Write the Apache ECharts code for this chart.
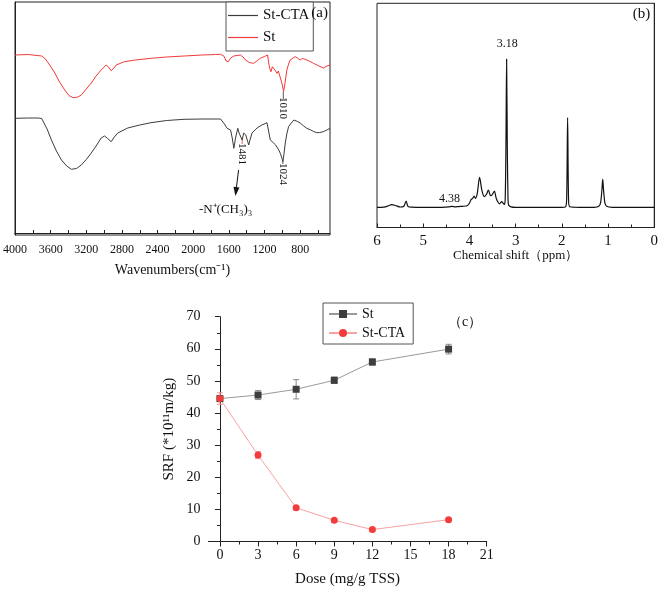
<!DOCTYPE html>
<html><head><meta charset="utf-8">
<script src="https://cdn.jsdelivr.net/npm/echarts@6/dist/echarts.min.js"></script>
<style>html,body{margin:0;padding:0;background:#fff}#c{width:661px;height:589px}</style>
</head><body><div id="c"></div>
<script>
// ---------- Panel (a): FTIR (wavenumber, relative transmittance a.u.)
const ftirSt = [[4000,178],[3850,178.5],[3702,177],[3665,174.7],[3610,168],[3553,160],[3500,151],[3442,143],[3395,137.5],[3349,135.3],[3300,135.8],[3256,138],[3200,144],[3144,150],[3090,157],[3033,163],[2977,168],[2950,166],[2921,162.3],[2890,165],[2865,168],[2772,171.3],[2650,173],[2474,174.7],[2300,176],[2102,177],[1900,178],[1750,178.5],[1693,178.7],[1656,177],[1630,172],[1607,171.3],[1580,175],[1544,177],[1470,178],[1440,176],[1414,173],[1370,170.5],[1321,169.7],[1280,172.5],[1247,174.7],[1200,176.5],[1165,178],[1153,170],[1140,164],[1127,161.3],[1112,166.3],[1098,166],[1075,162],[1060,159.7],[1045,162],[1023,161.3],[1005,150],[986,141.3],[970,150],[949,163],[930,169],[912,173],[880,175],[856,176.3],[830,175],[800,173],[775,174.5],[744,173.7],[700,172],[651,169.7],[600,167.5],[540,165],[500,167],[465,168]];
const ftirStCTA = [[4000,114.7],[3850,115],[3740,115],[3700,114.5],[3684,113],[3640,104],[3591,93],[3535,82],[3479,73],[3420,67],[3367,63.7],[3310,64.5],[3256,68],[3200,73.5],[3144,80],[3090,87],[3033,95],[2995,97],[2960,94.5],[2921,91.3],[2885,96],[2847,100],[2735,105],[2600,108],[2474,110.3],[2300,112.5],[2102,113.7],[1900,114],[1693,114],[1650,109],[1619,104.7],[1581,103],[1562,95],[1544,84.7],[1525,95],[1500,104.7],[1485,100],[1470,101],[1451,93],[1433,100],[1410,98],[1395,98],[1377,88],[1360,94],[1340,100],[1284,105],[1230,108],[1172,110.3],[1150,100],[1135,93],[1115,91],[1098,90],[1075,88],[1060,86.3],[1040,83],[1023,79.7],[1005,75],[994,71.3],[980,80],[967,90],[950,99],[930,106.3],[900,110],[870,113],[856,113],[830,111.5],[800,110],[760,107],[726,104.7],[680,103],[650,101.5],[614,100.3],[580,100.5],[540,101.3],[500,103],[465,104.7]];
const ftirLabelTicks = [4000,3600,3200,2800,2400,2000,1600,1200,800];
const ftirTicks = [4000,3800,3600,3400,3200,3000,2800,2600,2400,2200,2000,1800,1600,1400,1200,1000,800,600];

// ---------- Panel (b): 1H NMR (ppm, intensity a.u.)
const nmr = [[6.00,21],[5.85,21.2],[5.75,22.5],[5.68,23.7],[5.60,22.8],[5.50,21.3],[5.42,22],[5.37,27.3],[5.33,22],[5.25,21.2],[5.00,21],[4.70,21],[4.45,21.5],[4.38,22],[4.30,21.5],[4.15,22],[4.05,22.5],[4.00,25],[3.97,28.3],[3.93,30],[3.90,32.3],[3.87,30],[3.83,35],[3.78,51],[3.73,38],[3.68,31.7],[3.63,34],[3.59,38.3],[3.55,33],[3.53,32.7],[3.49,35],[3.46,37.3],[3.42,30],[3.38,26],[3.35,24.5],[3.30,26.7],[3.27,25],[3.24,24],[3.225,30],[3.21,80],[3.195,169.3],[3.18,80],[3.165,30],[3.15,23],[3.10,21.5],[3.00,21],[2.50,21],[2.00,21],[1.92,21.5],[1.895,30],[1.875,110.7],[1.855,30],[1.83,21.5],[1.60,21],[1.30,21],[1.20,22],[1.16,26],[1.13,40],[1.115,49],[1.10,40],[1.07,26],[1.03,22],[0.90,21],[0.50,21],[0.00,21]];

// ---------- Panel (c): SRF vs dose
const doses = [0,3,6,9,12,18];
const srfSt = [44.5,45.6,47.4,50.2,55.9,59.9];
const srfStErr = [0.8,1.4,3.0,1.0,1.0,1.5];
const srfCTA = [44.5,26.9,10.5,6.6,3.7,6.8];
const srfCTAErr = [1.8,1.1,0.5,0.5,0.5,0.5];
const doseTicks = [0,3,6,9,12,15,18,21];
const doseMinorTicks = [1.5,4.5,7.5,10.5,13.5,16.5,19.5];

const FONT = 'Liberation Serif, Times New Roman, serif';
const AX = '#222';
const plain = v => String(v);

function errSeries(name, xi, yi, ys, es, color) {
  return {
    type: 'custom', name: name, xAxisIndex: xi, yAxisIndex: yi, silent: true, z: 1,
    data: doses.map((x, i) => [x, ys[i] - es[i], ys[i] + es[i]]),
    encode: { x: 0, y: [1, 2] },
    renderItem: function (params, api) {
      const x = api.value(0);
      const lo = api.coord([x, api.value(1)]);
      const hi = api.coord([x, api.value(2)]);
      const w = 3;
      const st = { stroke: color, lineWidth: 1 };
      return { type: 'group', children: [
        { type: 'line', shape: { x1: lo[0], y1: lo[1], x2: hi[0], y2: hi[1] }, style: st },
        { type: 'line', shape: { x1: lo[0] - w, y1: lo[1], x2: lo[0] + w, y2: lo[1] }, style: st },
        { type: 'line', shape: { x1: hi[0] - w, y1: hi[1], x2: hi[0] + w, y2: hi[1] }, style: st }
      ]};
    }
  };
}

const chart = echarts.init(document.getElementById('c'), null, { renderer: 'canvas' });
const option = {
  animation: false,
  backgroundColor: '#fff',
  textStyle: { fontFamily: FONT, color: '#111' },
  grid: [
    { left: 13, right: 331, top: 2, bottom: 354, show: true, borderColor: AX, borderWidth: 1 },
    { left: 377, right: 5, top: 3.3, bottom: 361.5, show: true, borderColor: AX, borderWidth: 1 },
    { left: 208.5, right: 174.3, top: 316.7, bottom: 47.5 }
  ],
  xAxis: [
    { gridIndex: 0, type: 'value', min: 465, max: 4000, inverse: true, position: 'bottom',
      axisLine: { lineStyle: { color: AX } },
      axisTick: { inside: true, length: 3, customValues: ftirTicks, lineStyle: { color: AX } },
      axisLabel: { customValues: ftirLabelTicks, formatter: plain, fontSize: 12, margin: 9, color: '#111', fontFamily: FONT },
      splitLine: { show: false },
      name: 'Wavenumbers(cm\u207B\u00B9)', nameLocation: 'middle', nameGap: 28,
      nameTextStyle: { fontSize: 14, fontFamily: FONT, color: '#111' } },
    { gridIndex: 1, type: 'value', min: 0, max: 6, interval: 1, inverse: true, position: 'bottom',
      axisLine: { lineStyle: { color: AX } },
      axisTick: { inside: true, length: 4, lineStyle: { color: AX } },
      minorTick: { show: true, splitNumber: 2, length: 3, lineStyle: { color: AX } },
      axisLabel: { formatter: plain, fontSize: 15, margin: 6, color: '#111', fontFamily: FONT },
      splitLine: { show: false },
      name: 'Chemical shift\uFF08ppm\uFF09', nameLocation: 'middle', nameGap: 22,
      nameTextStyle: { fontSize: 13, fontFamily: FONT, color: '#111' } },
    { gridIndex: 2, type: 'value', min: -0.9, max: 21, position: 'bottom',
      axisLine: { lineStyle: { color: AX } },
      axisTick: { length: 5, customValues: doseTicks, lineStyle: { color: AX } },
      axisLabel: { customValues: doseTicks, formatter: plain, fontSize: 14, margin: 7, color: '#111', fontFamily: FONT },
      splitLine: { show: false },
      name: 'Dose (mg/g TSS)', nameLocation: 'middle', nameGap: 30,
      nameTextStyle: { fontSize: 15, fontFamily: FONT, color: '#111' } },
    { gridIndex: 2, type: 'value', min: -0.9, max: 21, position: 'bottom',
      axisLine: { show: true, onZero: false, lineStyle: { color: AX } },
      axisTick: { show: true, length: 3, customValues: doseMinorTicks, lineStyle: { color: AX } },
      axisLabel: { show: false, customValues: doseMinorTicks }, splitLine: { show: false } }
  ],
  yAxis: [
    { gridIndex: 0, type: 'value', min: -2, max: 231,
      axisLine: { show: true, lineStyle: { color: AX } }, axisTick: { show: false },
      axisLabel: { show: false }, splitLine: { show: false } },
    { gridIndex: 1, type: 'value', min: 0.8, max: 225,
      axisLine: { show: true, lineStyle: { color: AX } }, axisTick: { show: false },
      axisLabel: { show: false }, splitLine: { show: false } },
    { gridIndex: 2, type: 'value', min: 0, max: 70, interval: 10,
      axisLine: { show: true, lineStyle: { color: AX } },
      axisTick: { length: 5, lineStyle: { color: AX } },
      minorTick: { show: true, splitNumber: 2, length: 3, lineStyle: { color: AX } },
      axisLabel: { formatter: plain, fontSize: 14, margin: 8, color: '#111', fontFamily: FONT },
      splitLine: { show: false },
      name: 'SRF (*10\u00B9\u00B9m/kg)', nameLocation: 'middle', nameGap: 32, nameRotate: 90,
      nameTextStyle: { fontSize: 15, fontFamily: FONT, color: '#111' } }
  ],
  legend: [
    { data: [{ name: 'a|St-CTA', icon: 'rect' }, { name: 'a|St', icon: 'rect' }],
      orient: 'vertical', left: 226, top: 2, selectedMode: false,
      formatter: n => n.split('|')[1], itemWidth: 30, itemHeight: 1.2, itemGap: 7,
      padding: [6, 4, 6, 2], borderColor: '#555', borderWidth: 1, backgroundColor: '#fff',
      textStyle: { fontSize: 15, fontFamily: FONT, color: '#111', lineHeight: 14 } },
    { data: ['c|St', 'c|St-CTA'], orient: 'vertical', left: 323, top: 303, selectedMode: false,
      formatter: n => n.split('|')[1], itemWidth: 28, itemHeight: 10, itemGap: 5,
      padding: [4, 8, 4, 5], borderColor: '#555', borderWidth: 1, backgroundColor: '#fff',
      textStyle: { fontSize: 14, fontFamily: FONT, color: '#111' } }
  ],
  series: [
    { name: 'a|St-CTA', type: 'line', xAxisIndex: 0, yAxisIndex: 0, data: ftirStCTA,
      symbol: 'none', lineStyle: { color: '#3c3c3c', width: 1 }, itemStyle: { color: '#3c3c3c' } },
    { name: 'a|St', type: 'line', xAxisIndex: 0, yAxisIndex: 0, data: ftirSt,
      symbol: 'none', lineStyle: { color: '#f23a3a', width: 1 }, itemStyle: { color: '#f23a3a' } },
    { name: 'b|NMR', type: 'line', xAxisIndex: 1, yAxisIndex: 1, data: nmr,
      symbol: 'none', smooth: 0.3, lineStyle: { color: '#111', width: 1.2 } },
    errSeries('c|St err', 2, 2, srfSt, srfStErr, '#8a8a8a'),
    errSeries('c|St-CTA err', 2, 2, srfCTA, srfCTAErr, '#f39a9a'),
    { name: 'c|St', type: 'line', xAxisIndex: 2, yAxisIndex: 2, z: 3,
      data: doses.map((d, i) => [d, srfSt[i]]),
      symbol: 'rect', symbolSize: 7, lineStyle: { color: '#9a9a9a', width: 1 },
      itemStyle: { color: '#3e3e3e' } },
    { name: 'c|St-CTA', type: 'line', xAxisIndex: 2, yAxisIndex: 2, z: 3,
      data: doses.map((d, i) => [d, srfCTA[i]]),
      symbol: 'circle', symbolSize: 7, lineStyle: { color: '#f7a3a3', width: 1 },
      itemStyle: { color: '#f53c3c' } }
  ]
};
chart.setOption(option);

// ---------- annotations anchored to data coordinates
function px(g, p) { return chart.convertToPixel({ xAxisIndex: g, yAxisIndex: g }, p); }
const g = [];
function vtext(gi, p, text, size) {
  const q = px(gi, p);
  g.push({ type: 'text', x: q[0], y: q[1], rotation: -Math.PI / 2, z: 10,
    style: { text: text, font: size + 'px ' + FONT, fill: '#111', align: 'center', verticalAlign: 'middle' } });
}
function htext(gi, p, text, size) {
  const q = px(gi, p);
  g.push({ type: 'text', x: q[0], y: q[1], z: 10,
    style: { text: text, font: size + 'px ' + FONT, fill: '#111', align: 'center', verticalAlign: 'middle' } });
}
function seg(gi, p1, p2, color) {
  const a = px(gi, p1), b = px(gi, p2);
  g.push({ type: 'line', z: 10, shape: { x1: a[0], y1: a[1], x2: b[0], y2: b[1] }, style: { stroke: color, lineWidth: 1 } });
  return [a, b];
}
// peak labels (a)
seg(0, [989, 141], [989, 134], '#555');
vtext(0, [989, 125], '1010', 11);
seg(0, [1450, 93], [1450, 89], '#d66');
vtext(0, [1450, 79], '1481', 11);
seg(0, [994, 72], [994, 69], '#555');
vtext(0, [994, 59], '1024', 11);
// arrow
const ar = seg(0, [1491, 63], [1524, 39], '#111');
(function () {
  const a = ar[0], b = ar[1];
  const ang = Math.atan2(b[1] - a[1], b[0] - a[0]);
  const L = 7, W = 3;
  const bx = b[0] - L * Math.cos(ang), by = b[1] - L * Math.sin(ang);
  g.push({ type: 'polygon', z: 10, shape: { points: [
    [b[0] + 2 * Math.cos(ang), b[1] + 2 * Math.sin(ang)],
    [bx + W * Math.sin(ang), by - W * Math.cos(ang)],
    [bx - W * Math.sin(ang), by + W * Math.cos(ang)]] }, style: { fill: '#111' } });
})();
htext(0, [1636, 23], '-N\u207A(CH\u2083)\u2083', 13);
// panel (b) labels
htext(1, [3.18, 184.3], '3.18', 12);
htext(1, [4.43, 29.3], '4.38', 12);

const pa = px(0, [465, 231]);
g.push({ type: 'text', x: pa[0] - 2, y: pa[1] + 11, z: 10,
  style: { text: '(a)', font: '15px ' + FONT, fill: '#111', align: 'right', verticalAlign: 'middle' } });
const pb = px(1, [0, 225]);
g.push({ type: 'text', x: pb[0] - 4, y: pb[1] + 11, z: 10,
  style: { text: '(b)', font: '15px ' + FONT, fill: '#111', align: 'right', verticalAlign: 'middle' } });
htext(2, [19.3, 68.2], '\uFF08c\uFF09', 14);

chart.setOption({ graphic: g });
</script>
</body></html>
